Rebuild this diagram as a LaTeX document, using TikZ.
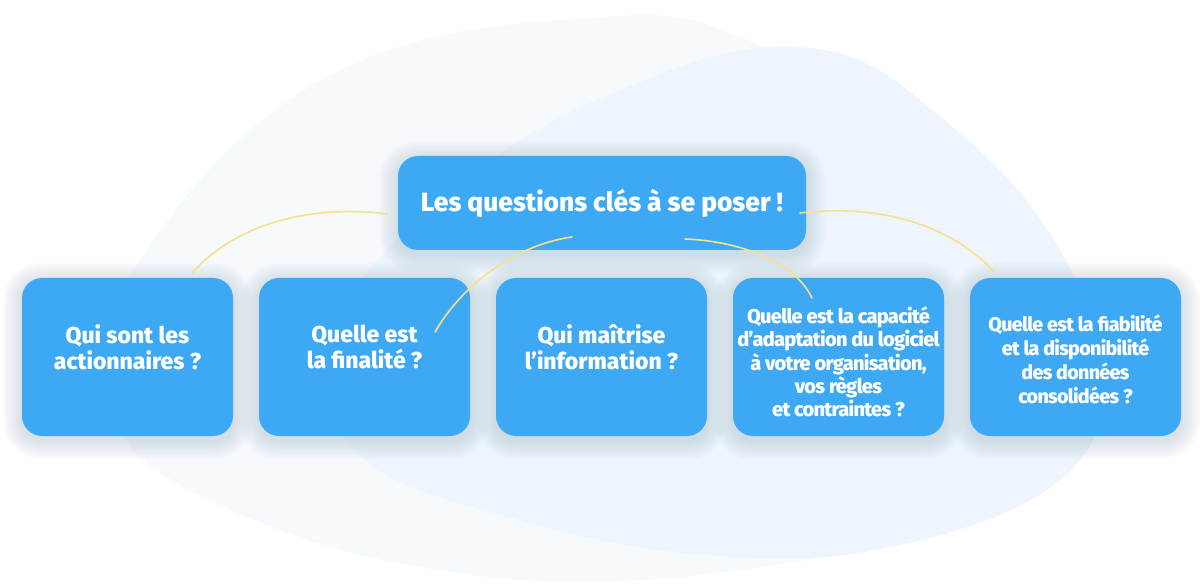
\documentclass[tikz,border=0pt]{standalone}
\usepackage{fontspec}
\setmainfont{Fira Sans}[BoldFont={Fira Sans ExtraBold}]
\definecolor{boxblue}{HTML}{3DA8F4}
\definecolor{linkyellow}{HTML}{F6E18B}
\definecolor{blobA}{HTML}{F7FAFD}
\definecolor{blobB}{HTML}{EEF5FC}
\definecolor{shadowc}{HTML}{5A7395}
\pgfdeclarelayer{blobs}
\pgfdeclarelayer{shadows}
\pgfsetlayers{blobs,shadows,main}
\newcommand\cardshadow[1]{%
  \begin{pgfonlayer}{shadows}
  \foreach \i in {1,...,12}{%
    \fill[shadowc, opacity=0.017, rounded corners=20pt+\i*1.5pt]
      ([xshift=-\i*1.6pt, yshift=-\i*1.6pt-4pt]#1.south west) rectangle
      ([xshift=\i*1.6pt, yshift=\i*1.6pt-4pt]#1.north east);}
  \end{pgfonlayer}}
\begin{document}
\begin{tikzpicture}[x=1pt,y=-1pt,
  card/.style={fill=boxblue, rounded corners=20pt, draw=none, inner sep=0pt},
  smallcard/.style={card, minimum width=211pt, minimum height=158pt},
  txt/.style={text=white, font=\bfseries, align=center, inner sep=0pt},
  txtA/.style={txt, font=\fontsize{23}{26}\selectfont\bfseries},
  txtB/.style={txt, font=\fontsize{20}{23.3}\selectfont\bfseries\addfontfeature{LetterSpace=-3.5}},
  txtC/.style={txt, font=\fontsize{19.7}{24}\selectfont\bfseries\addfontfeature{LetterSpace=-3.5}},
  link/.style={draw=linkyellow, line width=1.6pt, line cap=round}]
\useasboundingbox (0,0) rectangle (1200,588);
\begin{pgfonlayer}{blobs}
\fill[white] (0,0) rectangle (1200,588);
\fill[blobA] plot[smooth cycle, tension=0.7] coordinates {(600,17) (760,45) (930,150) (1025,280) (1040,420) (940,520) (700,575) (450,572) (220,505) (112,410) (140,260) (330,75)};
\fill[blobB] plot[smooth cycle, tension=0.7] coordinates {(810,48) (950,125) (1060,250) (1100,380) (1060,480) (900,545) (720,556) (520,520) (360,455) (330,340) (440,200) (620,90)};
\end{pgfonlayer}
% nodes
\node[card, minimum width=408pt, minimum height=94pt] (top) at (602,203) {};
\node[txt, font=\fontsize{26.4}{30}\selectfont\bfseries] (toptxt) at (602,203) {Les questions clés à se poser !};
\node[smallcard] (b1) at (127.5,357) {};
\node[smallcard] (b2) at (364.5,357) {};
\node[smallcard] (b3) at (601.5,357) {};
\node[smallcard] (b4) at (838.5,357) {};
\node[smallcard] (b5) at (1075.5,357) {};
\cardshadow{top}
\cardshadow{b1}\cardshadow{b2}\cardshadow{b3}\cardshadow{b4}\cardshadow{b5}
\node[txtA] (t1) at (127.5,347) {Qui sont les\\actionnaires ?};
\node[txtA] (t2) at (364.5,347) {Quelle est\\la finalité ?};
\node[txtA] (t3) at (601.5,347) {Qui maîtrise\\l’information ?};
\node[txtB] (t4) at (838.5,362) {Quelle est la capacité\\d’adaptation du logiciel\\à votre organisation,\\vos règles\\et contraintes ?};
\node[txtC] (t5) at (1075.5,359) {Quelle est la fiabilité\\et la disponibilité\\des données\\consolidées ?};
% connector ends
\coordinate (s1) at (388,214);
\coordinate (e1) at (192,273);
\coordinate (s2) at (572,237);
\coordinate (e2) at (435,332);
\coordinate (s3) at (685,239);
\coordinate (e3) at (812,298);
\coordinate (s4) at (800,213);
\coordinate (e4) at (995,273);
\draw[link] (s1) .. controls (300,203) and (230,230) .. (e1);
\draw[link] (s2) .. controls (515,245) and (462,285) .. (e2);
\draw[link] (s3) .. controls (740,241) and (795,262) .. (e3);
\draw[link] (s4) .. controls (885,203) and (955,228) .. (e4);
\end{tikzpicture}
\end{document}
